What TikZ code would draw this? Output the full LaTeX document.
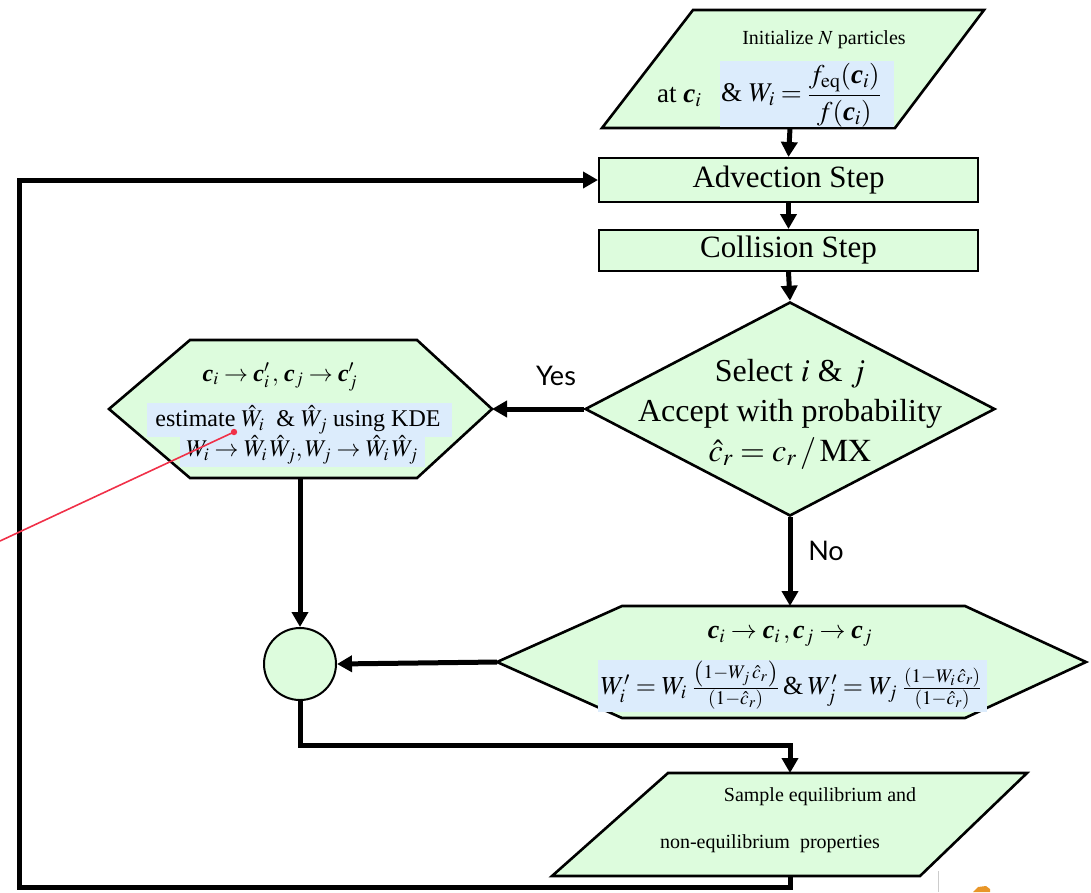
\documentclass[tikz,border=0pt]{standalone}
\usepackage{amsmath}
\usepackage{mathptmx}
\usepackage{fontspec}
\setmainfont{Liberation Serif}
\newfontfamily\yesfont{Lato}
\usetikzlibrary{arrows.meta,shapes.geometric}
\definecolor{boxgreen}{RGB}{221,252,221}
\definecolor{hlblue}{RGB}{220,236,252}
\definecolor{annred}{RGB}{240,48,72}
\definecolor{iconorange}{RGB}{232,150,40}
\newcommand{\bc}{\text{\bfseries\itshape c}}
\begin{document}
\begin{tikzpicture}[x=1pt,y=-1pt,
  shapeline/.style={draw=black,line width=2.6pt,fill=boxgreen,line join=miter},
  stepbox/.style={draw=black,line width=2pt,fill=boxgreen,inner sep=0pt},
  conn/.style={line width=5pt,line join=miter,-{Triangle[length=15pt,width=16pt]}},
  txt/.style={inner sep=0pt,align=center},
  big/.style={font=\fontsize{31}{40}\selectfont},
  mid/.style={font=\fontsize{24}{30}\selectfont},
  small/.style={font=\fontsize{20}{24}\selectfont},
  label/.style={inner sep=0pt,font=\yesfont\fontsize{27}{30}\selectfont}]
\useasboundingbox (0,0) rectangle (1091,892);

% ---------- top parallelogram
\coordinate (tpBL) at (602,128);
\coordinate (tpTL) at (693,10);
\coordinate (tpTR) at (984,10);
\coordinate (tpBR) at (895,128);
\coordinate (tpS) at (790,128);
\path[shapeline] (tpBL) -- (tpTL) -- (tpTR) -- (tpBR) -- cycle;
\fill[hlblue] (720,61) rectangle (894,127);
\node[txt,small] (initA) at (824,40) {Initialize $N$ particles};
\node[txt,font=\fontsize{27}{32}\selectfont,anchor=base west] (initB) at (657,102) {at $\bc_i$};
\node[txt,font=\fontsize{27}{32}\selectfont,anchor=west] (initC) at (721,95) {\& $W_i = \dfrac{f_{\mathrm{eq}}(\bc_i)}{f(\bc_i)}$};

% ---------- steps
\node[stepbox,minimum width=379,minimum height=44,big] (adv) at (788.5,180) {Advection Step};
\node[stepbox,minimum width=379,minimum height=41,big] (col) at (788.5,250.5) {Collision Step};

% ---------- decision
\node[diamond,shapeline,minimum width=410,minimum height=214,inner sep=0pt] (dia) at (790,409) {};
\node[txt,font=\fontsize{32}{40}\selectfont] (diat) at (790,414) {Select $i$ \& $j$\\ Accept with probability\\ $\hat{c}_r = c_r\,/\,\mathrm{MX}$};

% ---------- left hexagon (accepted)
\coordinate (hLTL) at (190,340);
\coordinate (hLTR) at (417,340);
\coordinate (hLE) at (492,409);
\coordinate (hLBR) at (417,478);
\coordinate (hLBL) at (190,478);
\coordinate (hLW) at (109,409);
\coordinate (hLS) at (300,478);
\path[shapeline] (hLTL) -- (hLTR) -- (hLE) -- (hLBR) -- (hLBL) -- (hLW) -- cycle;
\fill[hlblue] (147,403) rectangle (452,437);
\fill[hlblue] (180,437) rectangle (425,467);
\node[txt,mid] (accA) at (280,377) {$\bc_i \rightarrow \bc'_i\,,\,\bc_j \rightarrow \bc'_j$};
\node[txt,mid] (accB) at (298,420) {estimate $\hat{W}_i$\ \ \& $\hat{W}_j$ using KDE};
\node[txt,mid] (accC) at (302,450) {$W_i \rightarrow \hat{W}_i\,\hat{W}_j, W_j \rightarrow \hat{W}_i\,\hat{W}_j$};

% ---------- bottom hexagon (rejected)
\coordinate (hBTL) at (622,606);
\coordinate (hBTR) at (965,606);
\coordinate (hBE) at (1086,662);
\coordinate (hBBR) at (965,718);
\coordinate (hBBL) at (622,718);
\coordinate (hBW) at (497,662);
\coordinate (hBN) at (790,606);
\path[shapeline] (hBTL) -- (hBTR) -- (hBE) -- (hBBR) -- (hBBL) -- (hBW) -- cycle;
\fill[hlblue] (598,660) rectangle (987,712);
\node[txt,font=\fontsize{26}{30}\selectfont] (rejA) at (790,636) {$\bc_i \rightarrow \bc_i\,,\bc_j \rightarrow \bc_j$};
\node[txt,font=\fontsize{26}{30}\selectfont] (rejB) at (791,685) {$W'_i = W_i\;\frac{\left(1-W_j\,\hat{c}_r\right)}{(1-\hat{c}_r)}$\,\&\,$W'_j = W_j\;\frac{\left(1-W_i\,\hat{c}_r\right)}{(1-\hat{c}_r)}$};

% ---------- join circle
\node[circle,draw=black,line width=2pt,fill=boxgreen,minimum size=72,inner sep=0pt] (join) at (300,664) {};

% ---------- bottom parallelogram
\coordinate (bpTL) at (668,773);
\coordinate (bpTR) at (1027,773);
\coordinate (bpBR) at (920,876);
\coordinate (bpBL) at (552,876);
\coordinate (bpN) at (790,773);
\coordinate (bpS) at (790,876);
\path[shapeline] (bpBL) -- (bpTL) -- (bpTR) -- (bpBR) -- cycle;
\node[txt,small] (sampA) at (820,797) {Sample equilibrium and};
\node[txt,small] (sampB) at (770,844) {non-equilibrium\ \ properties};

% ---------- connectors
\coordinate (c1) at (300,745);
\coordinate (c2) at (790,745);
\coordinate (f1) at (790,887);
\coordinate (f2) at (19,887);
\coordinate (f3) at (19,180);
\draw[conn] (tpS) -- (adv.north);
\draw[conn] (adv.south) -- (col.north);
\draw[conn] (col.south) -- (dia.north);
\draw[conn] (dia.west) -- (hLE);
\draw[conn] (hLS) -- (join.north);
\draw[conn] (dia.south) -- (hBN);
\draw[conn] (hBW) -- (join.east);
\draw[conn] (join.south) -- (c1) -- (c2) -- (bpN);
\draw[conn] (bpS) -- (f1) -- (f2) -- (f3) -- (adv.west);

\node[label] (yes) at (556,376) {Yes};
\node[label] (no) at (826,551) {No};

% ---------- annotation line
\coordinate (redA) at (234,432);
\coordinate (redB) at (0,541);
\draw[annred,line width=1.6pt] (redA) -- (redB);
\fill[annred] (redA) circle (3.2pt);

% ---------- stray marks at bottom right
\draw[black!20,line width=0.8pt] (938,871) -- (938,892);
\fill[iconorange] (973,892) -- (978,887) -- (986,886) -- (990,889) -- (990,892) -- cycle;
\end{tikzpicture}
\end{document}
